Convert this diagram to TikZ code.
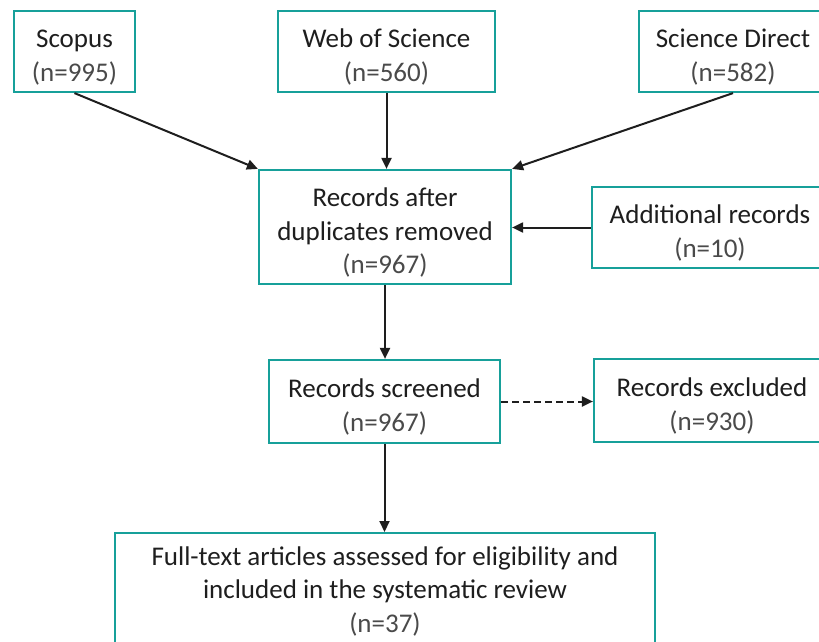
\documentclass[tikz,border=0pt]{standalone}
\usepackage{fontspec}
\setmainfont{Carlito}
\usetikzlibrary{arrows.meta}
\definecolor{teal1}{HTML}{17A09A}
\definecolor{txt}{HTML}{1E1E1E}
\definecolor{ntxt}{HTML}{4A4A4A}
\newcommand{\nn}[1]{{\color{ntxt}#1}}
\newcommand{\st}{\rule{0pt}{30pt}}
\begin{document}
\begin{tikzpicture}[x=1pt,y=-1pt,
  boxnode/.style={draw=teal1, line width=2.2pt, fill=white, inner sep=0pt, align=center,
    text=txt, font=\fontsize{27}{33.5}\selectfont},
  arr/.style={line width=2pt, color=txt, -{Triangle[length=11pt,width=10pt]}},
  darr/.style={arr, dash pattern=on 7pt off 4pt}]
\useasboundingbox (0,0) rectangle (819,642);
\node[boxnode, minimum width=121pt, minimum height=81pt] (scopus) at (74.5,51.5) {\st Scopus\\\nn{(n=995)}};
\node[boxnode, minimum width=217pt, minimum height=81pt] (wos) at (386.5,51.5) {\st Web of Science\\\nn{(n=560)}};
\node[boxnode, minimum width=188pt, minimum height=81pt] (sd) at (733,51.5) {\st Science Direct\\\nn{(n=582)}};
\node[boxnode, minimum width=252pt, minimum height=114pt] (dup) at (385,227) {\st Records after\\duplicates removed\\\nn{(n=967)}};
\node[boxnode, minimum width=236pt, minimum height=81pt] (add) at (710,227.5) {\st Additional records\\\nn{(n=10)}};
\node[boxnode, minimum width=231pt, minimum height=83pt] (scr) at (384.5,401.5) {\st Records screened\\\nn{(n=967)}};
\node[boxnode, minimum width=236pt, minimum height=83pt] (exc) at (712,400.5) {\st Records excluded\\\nn{(n=930)}};
\node[boxnode, minimum width=540pt, minimum height=116pt, anchor=north] (full) at (385,532) {Full-text articles assessed for eligibility and\\included in the systematic review\\\nn{(n=37)}};
\draw[arr] (scopus.south) -- (dup.north west);
\draw[arr] (wos.south) -- (wos.south |- dup.north);
\draw[arr] (sd.south) -- (dup.north east);
\draw[arr] (add.west) -- (add.west -| dup.east);
\draw[arr] (dup.south) -- (dup.south |- scr.north);
\draw[darr] (scr.east) -- (scr.east -| exc.west);
\draw[arr] (scr.south) -- (scr.south |- full.north);
\end{tikzpicture}
\end{document}
